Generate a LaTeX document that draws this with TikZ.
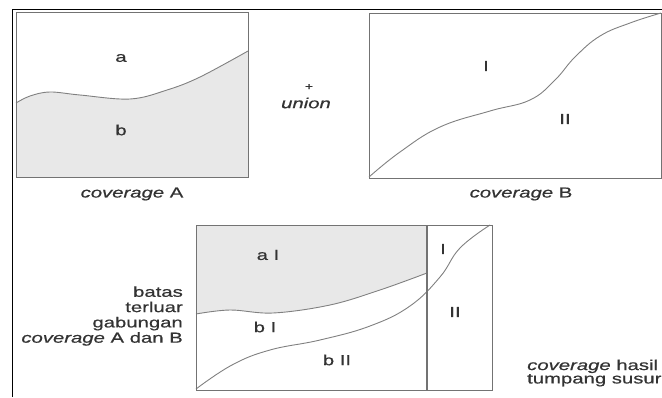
\documentclass[tikz,border=0pt]{standalone}
\usepackage{fontspec}
\setmainfont{Liberation Sans}[FakeStretch=1.4, FakeBold=0.6]
\begin{document}
\begin{tikzpicture}[x=1pt,y=-1pt,
  boxline/.style={draw=black!55, line width=1.3pt},
  curveline/.style={draw=black!50, line width=0.9pt},
  lbl/.style={font=\fontsize{14.5}{15}\selectfont, text=black!80, inner sep=0pt},
  shadefill/.style={fill=black!9}]
\useasboundingbox (0,0) rectangle (662,397);
% outer frame lines
\draw[black, line width=1pt] (12,397) -- (12,9) -- (662,9);
% ---- coverage A ----
\fill[shadefill] (16,177) -- plot[smooth, tension=0.6] coordinates {(16,103) (30,96) (50,92) (80,95) (130,99) (167,90) (200,77) (248,51)}
  -- (248,177) -- cycle;
\draw[curveline] plot[smooth, tension=0.6] coordinates {(16,103) (30,96) (50,92) (80,95) (130,99) (167,90) (200,77) (248,51)};
\node[boxline, minimum width=232pt, minimum height=165pt, anchor=north west, inner sep=0pt] (boxA) at (16,12) {};
\node[lbl] (la) at (121,58) {a};
\node[lbl] (lb) at (121,130) {b};
\node[lbl] (capA) at (132,194) {\textit{coverage} A};
% ---- union ----
\node[lbl, font=\fontsize{10}{10}\selectfont] (plus) at (309,87) {+};
\node[lbl] (union) at (306,103) {\textit{union}};
% ---- coverage B ----
\node[boxline, minimum width=292pt, minimum height=165pt, anchor=north west, inner sep=0pt] (boxB) at (369,12.5) {};
\draw[curveline] plot[smooth, tension=0.7] coordinates {(369,177) (400,152) (440,127) (490,111) (530,100) (555,80) (575,57) (600,36) (630,23) (661,13)};
\node[lbl] (lI) at (486,66) {I};
\node[lbl] (lII) at (565,119) {II};
\node[lbl] (capB) at (521,194) {\textit{coverage} B};
% ---- overlay result ----
\fill[shadefill] (196,225) -- (427,225) -- plot[smooth, tension=0.6] coordinates {(427,273) (380,290) (330,305) (273,313) (230,310) (196,314)}
  -- cycle;
\draw[curveline] plot[smooth, tension=0.6] coordinates {(196,314) (230,310) (273,313) (330,305) (380,290) (427,273)};
\draw[curveline] plot[smooth, tension=0.7] coordinates {(196,389) (232,365) (270,350) (320,340) (370,326) (410,306) (440,277) (460,248) (490,225)};
\node[boxline, minimum width=296pt, minimum height=165pt, anchor=north west, inner sep=0pt] (boxC) at (196,225) {};
\draw[boxline] (boxC.north west) ++(231,0) coordinate (divtop) -- (divtop |- boxC.south) coordinate (divbot);
\node[lbl] (laI) at (268,255) {a I};
\node[lbl] (lbI) at (265,327) {b I};
\node[lbl] (lbII) at (337,360) {b II};
\node[lbl] (lIc) at (443,249) {I};
\node[lbl] (lIIc) at (455,312) {II};
% ---- side texts ----
\node[lbl, align=right, anchor=east, font=\fontsize{14.5}{15.3}\selectfont] (batas) at (183,316) {batas\\terluar\\gabungan\\\textit{coverage} A dan B};
\node[lbl, align=left, anchor=west, font=\fontsize{14.5}{12}\selectfont] (hasil) at (527,373) {\textit{coverage} hasil\\tumpang susur};
\end{tikzpicture}
\end{document}
